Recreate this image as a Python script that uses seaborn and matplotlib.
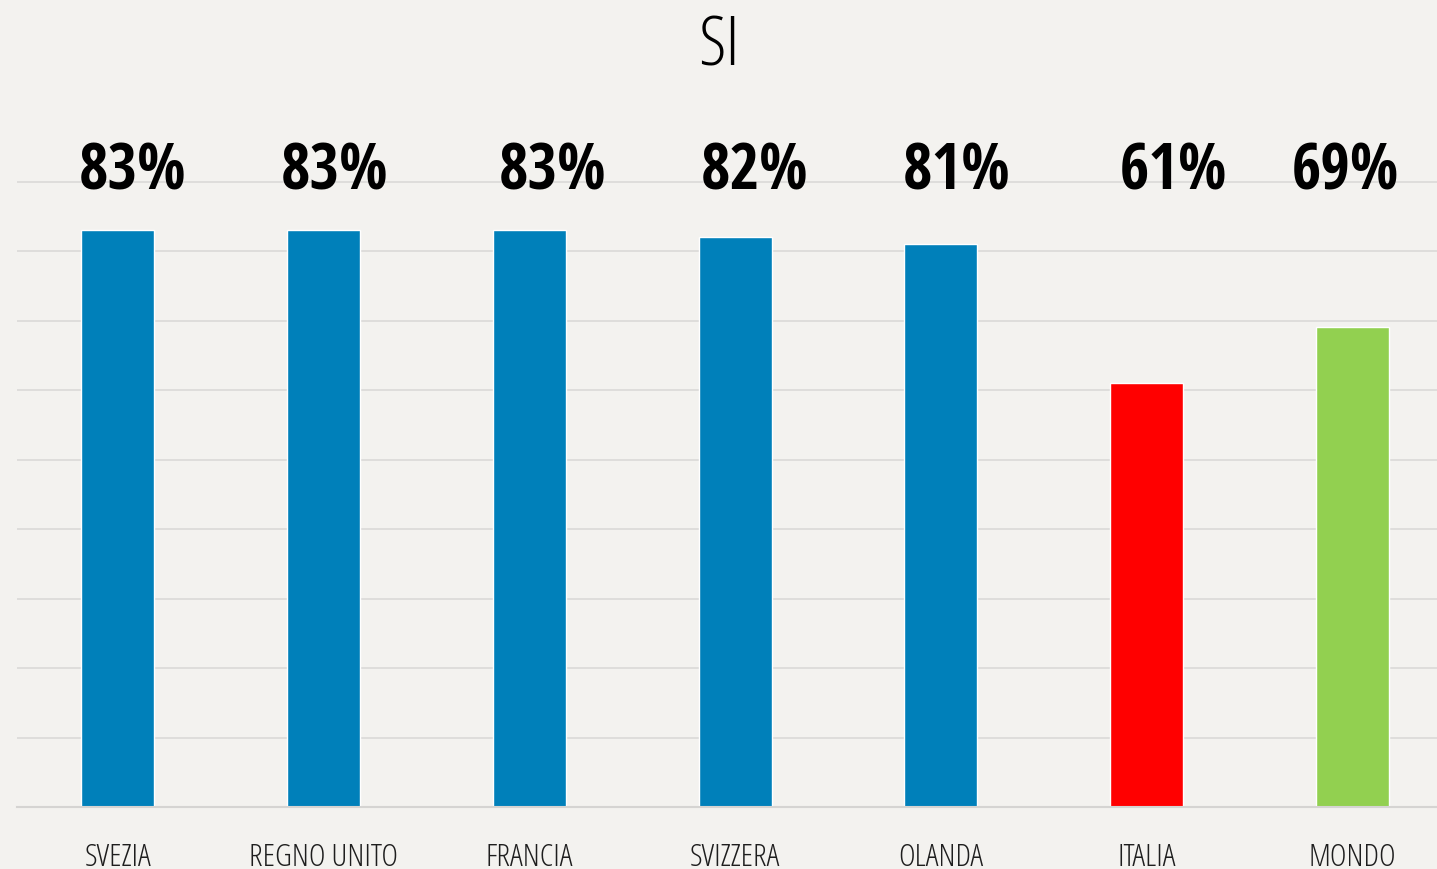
import matplotlib
matplotlib.use("Agg")
import matplotlib.pyplot as plt
from matplotlib import font_manager
from matplotlib.font_manager import FontProperties
import seaborn as sns
import pandas as pd

categories = ["SVEZIA", "REGNO UNITO", "FRANCIA", "SVIZZERA", "OLANDA", "ITALIA", "MONDO"]
values = [83, 83, 83, 82, 81, 61, 69]
value_labels = ["83%", "83%", "83%", "82%", "81%", "61%", "69%"]
title = "SI"

# styling
bar_colors = ["#0080BA", "#0080BA", "#0080BA", "#0080BA", "#0080BA", "#FF0000", "#92D050"]
label_dx = [0.073, 0.055, 0.115, 0.097, 0.079, 0.134, -0.034]
bg = "#F3F2EF"

fonts = font_manager.fontManager.ttflist
available = {f.name for f in fonts}
pref = ["Open Sans Condensed", "Liberation Sans Narrow", "DejaVu Sans Condensed", "Open Sans"]
family = next((p for p in pref if p in available), "DejaVu Sans")


def narrow(f):
    n = f.name.lower()
    s = str(f.stretch).lower()
    return "condensed" in n or "narrow" in n or "condensed" in s


def wnum(w):
    table = {"light": 300, "normal": 400, "regular": 400, "book": 400, "medium": 500,
             "bold": 700, "semibold": 600, "demibold": 600, "extra light": 200,
             "ultralight": 200, "heavy": 800, "black": 900}
    try:
        return int(w)
    except Exception:
        return table.get(str(w).lower(), 400)


light_cands = sorted([f for f in fonts if narrow(f) and wnum(f.weight) <= 400 and "italic" not in f.style.lower()],
                     key=lambda f: (0 if "open sans" in f.name.lower() else 1, abs(wnum(f.weight) - 300)))
bold_cands = sorted([f for f in fonts if narrow(f) and wnum(f.weight) >= 600 and "italic" not in f.style.lower()],
                    key=lambda f: (0 if "open sans" in f.name.lower() else 1, abs(wnum(f.weight) - 700)))

if light_cands:
    light_fp = FontProperties(fname=light_cands[0].fname)
else:
    light_fp = FontProperties(family=["Open Sans", "DejaVu Sans"], weight="light")
if bold_cands:
    bold_fp = FontProperties(fname=bold_cands[0].fname)
else:
    bold_fp = FontProperties(family=[family, "DejaVu Sans"], weight="bold")

sns.set_theme(style="white")
plt.rcParams["font.family"] = [family, "DejaVu Sans"]

df = pd.DataFrame({"cat": categories, "val": values})

fig = plt.figure(figsize=(14.37, 8.69), dpi=100, facecolor=bg)
ax = fig.add_axes([17 / 1437, 1 - 807 / 869, 1 - 17 / 1437, 695 / 869])
ax.set_facecolor(bg)

sns.barplot(data=df, x="cat", y="val", hue="cat", palette=bar_colors, legend=False,
            width=0.355, saturation=1, ax=ax)

ax.set_xlim(-0.491, 6.413)
ax.set_ylim(0, 100)
ax.set_yticks(range(10, 100, 10))
ax.yaxis.grid(True, color="#DCDBD9", linewidth=1.3)
ax.set_axisbelow(True)
ax.tick_params(axis="y", left=False, labelleft=False)
ax.tick_params(axis="x", bottom=False, pad=19)
ax.set_xticks(range(len(categories)))
ax.set_xticklabels(categories, fontproperties=light_fp, fontsize=23, color="#1E1E1E")
ax.set_xlabel("")
ax.set_ylabel("")
for s in ["top", "right", "left"]:
    ax.spines[s].set_visible(False)
ax.spines["bottom"].set_color("#D5D4D2")
ax.spines["bottom"].set_linewidth(1.5)

for i, lbl in enumerate(value_labels):
    ax.text(i + label_dx[i], 88.8, lbl, ha="center", va="baseline",
            fontproperties=bold_fp, fontsize=46, color="black")

fig.text(0.5, 1 - 65 / 869, title, ha="center", va="baseline", fontproperties=light_fp,
         fontsize=50, color="black")

fig.savefig("out.png", dpi=100, facecolor=bg)
